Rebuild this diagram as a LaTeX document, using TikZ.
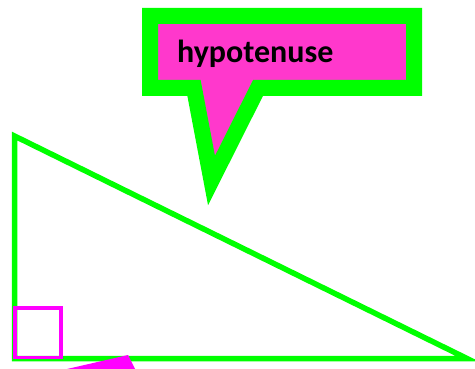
\documentclass[tikz,border=0pt]{standalone}
\usepackage{fontspec}
\setmainfont{Carlito}
\definecolor{brightgreen}{HTML}{00FF00}
\definecolor{calloutpink}{HTML}{FF38CC}
\definecolor{markmagenta}{HTML}{FF00FF}
\tikzset{
  edgeline/.style={draw=brightgreen, line width=5.5pt, miter limit=20, line join=miter},
  calloutshape/.style={draw=brightgreen, fill=calloutpink, line width=16pt, line join=miter, miter limit=20},
  rightmark/.style={draw=markmagenta, line width=3.5pt},
  labeltext/.style={font=\fontsize{32}{38}\selectfont\bfseries, inner sep=0pt, anchor=base west}
}
\begin{document}
\begin{tikzpicture}[x=1pt,y=-1pt]
  \useasboundingbox (0,0) rectangle (475,369);
  \clip (0,0) rectangle (475,369);
  % right triangle
  \coordinate (A) at (14.5,136);
  \coordinate (B) at (14.5,358.5);
  \coordinate (C) at (467,358.5);
  \draw[edgeline] (A) -- (B) -- (C) -- cycle;
  % right-angle mark
  \draw[rightmark] (15,308) rectangle (61,357.5);
  % small wedge below the base
  \fill[markmagenta] (54,372) -- (128,355) -- (136.5,372) -- cycle;
  % speech-bubble callout
  \draw[calloutshape] (150,16) -- (414,16) -- (414,88) -- (258,88)
        -- (211.5,180.5) -- (194,88) -- (150,88) -- cycle;
  \node[labeltext] (label) at (177,63) {hypotenuse};
\end{tikzpicture}
\end{document}
